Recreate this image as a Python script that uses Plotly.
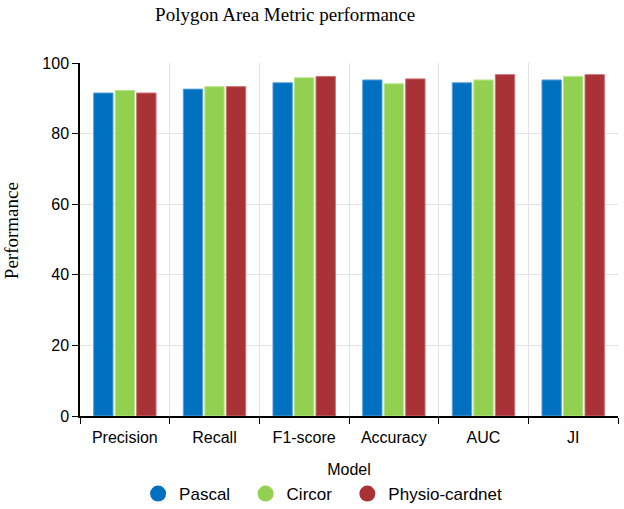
import plotly.graph_objects as go

categories = ["Precision", "Recall", "F1-score", "Accuracy", "AUC", "JI"]
pascal = [91.5, 92.6, 94.4, 95.2, 94.4, 95.2]
circor = [92.2, 93.3, 95.8, 94.1, 95.2, 96.2]
physio = [91.5, 93.3, 96.2, 95.5, 96.7, 96.7]
series_names = ["Pascal", "Circor", "Physio-cardnet"]
y_ticks = [0, 20, 40, 60, 80, 100]

colors = ["#0070C0", "#92D050", "#A83236"]
edges = ["#5aa0dc", "#b8e58a", "#c97074"]

fig = go.Figure()
for name, vals, c, e in zip(series_names, [pascal, circor, physio], colors, edges):
    fig.add_trace(go.Bar(x=categories, y=vals, name=name, marker=dict(color=c, line=dict(color=e, width=1)),
                         showlegend=False))
for i, (name, c) in enumerate(zip(series_names, colors)):
    label = name + ("\u00a0\u00a0" if i < len(series_names) - 1 else "")
    fig.add_trace(go.Scatter(x=[None], y=[None], mode="markers", name=label,
                             marker=dict(color=c, size=16, symbol="circle")))

fig.update_layout(
    width=624, height=509,
    margin=dict(l=80, r=6, t=63, b=93, autoexpand=False),
    paper_bgcolor="white", plot_bgcolor="white",
    barmode="group", bargap=0.28, bargroupgap=0.1,
    title=dict(text="Polygon Area Metric performance", x=0.457, xanchor="center", y=0.972, yanchor="middle",
               font=dict(family="Liberation Serif", size=19, color="black")),
    font=dict(family="Liberation Sans", size=16, color="black"),
    legend=dict(orientation="h", x=0.45, xanchor="center", y=-0.221, yanchor="middle",
                font=dict(family="Liberation Sans", size=17, color="black"), itemwidth=32),
    showlegend=True,
    annotations=[dict(text="Performance", textangle=-90, xref="paper", yref="paper",
                      x=-0.128, y=0.524, xanchor="center", yanchor="middle", showarrow=False,
                      font=dict(family="Liberation Serif", size=19, color="black"))],
)
fig.update_xaxes(
    title=dict(text="Model", font=dict(family="Liberation Sans", size=16), standoff=19),
    showline=True, linecolor="black", linewidth=1.5,
    ticks="outside", tickson="boundaries", ticklen=6, tickcolor="black",
    showgrid=True, gridcolor="#e3e3e3", gridwidth=1,
    tickfont=dict(size=16), automargin=False, ticklabelstandoff=6,
)
fig.update_yaxes(
    range=[0, 100], tickvals=y_ticks,
    showline=True, linecolor="black", linewidth=1.5,
    ticks="outside", ticklen=6, tickcolor="black",
    showgrid=True, gridcolor="#e3e3e3", gridwidth=1,
    tickfont=dict(size=16), zeroline=False, automargin=False,
)
fig.write_html("out.html", config={"displayModeBar": False},
               post_script="document.body.style.margin='0';")
